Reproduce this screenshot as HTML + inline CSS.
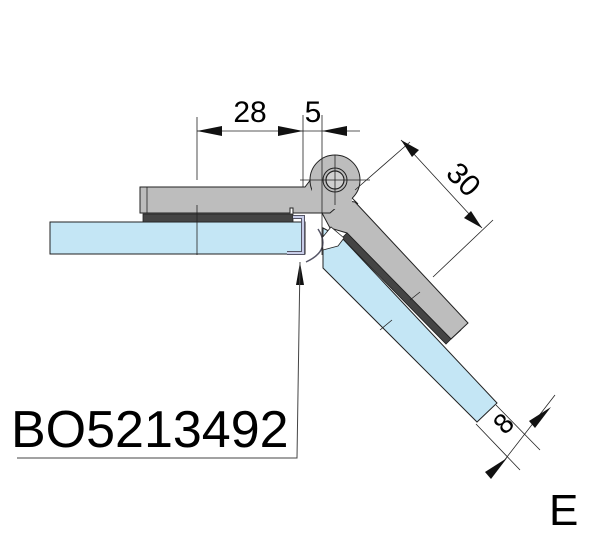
<!DOCTYPE html>
<html><head><style>body{margin:0;background:#fff}svg{display:block}</style></head><body>
<svg width="600" height="538" viewBox="0 0 600 538" xmlns="http://www.w3.org/2000/svg" font-family="Liberation Sans, Arial, sans-serif">
<rect x="50" y="222" width="255" height="32" fill="#c4e6f5" stroke="#222" stroke-width="1"/>
<rect x="143" y="214" width="150" height="8" fill="#444" stroke="#222" stroke-width="0.8"/>
<polygon points="323,228 342,238 497,403 477,422 323,268" fill="#c4e6f5" stroke="#222" stroke-width="1"/>
<polygon points="322,213 340,200 355,202 468,323 451,339 347,233 330,228" fill="#bdbdbd" stroke="#222" stroke-width="1"/>
<polygon points="342,238 347,233 451,339 446,344" fill="#444" stroke="#222" stroke-width="0.8"/>
<line x1="461" y1="330" x2="451" y2="339" stroke="#222" stroke-width="0.8"/>
<path d="M140,187 L305,187 L318,170 L345,200 L330,213 L293,213 L293,208 L290,208 L290,213 L140,213 Z" fill="#bdbdbd" stroke="#222" stroke-width="1"/>
<line x1="147" y1="187" x2="147" y2="213" stroke="#222" stroke-width="0.8"/>
<circle cx="335" cy="180" r="25" fill="#bdbdbd" stroke="#222" stroke-width="1"/>
<rect x="312" y="185" width="40" height="24" fill="#bdbdbd"/>
<line x1="352" y1="198" x2="358" y2="204" stroke="#222" stroke-width="1"/>
<circle cx="335" cy="180" r="12" fill="#bdbdbd" stroke="#222" stroke-width="1"/>
<circle cx="335" cy="180" r="9" fill="#d0d0d0" stroke="#222" stroke-width="1.2"/>
<polygon points="322,238 331,227 344,238 338,246 323,250" fill="#fff" stroke="#222" stroke-width="0.8"/>
<path d="M287,253 L303,253 L303,217 L293,217" fill="none" stroke="#556" stroke-width="4"/>
<path d="M287,253 L303,253 L303,217 L293,217" fill="none" stroke="#c8cde8" stroke-width="2"/>
<path d="M318,229 Q332,250 306,262" fill="none" stroke="#556" stroke-width="1.5"/>
<g stroke="#222" stroke-width="0.8" fill="none">
<line x1="197" y1="117" x2="197" y2="180"/>
<line x1="197" y1="205" x2="197" y2="255"/>
<line x1="303" y1="115" x2="303" y2="187"/>
<line x1="322" y1="115" x2="322" y2="255"/>
<line x1="197" y1="131" x2="360" y2="131"/>
<line x1="300" y1="180" x2="370" y2="180"/>
<line x1="335" y1="155" x2="335" y2="205"/>
<line x1="355" y1="190" x2="410" y2="142"/>
<line x1="433" y1="277" x2="493" y2="220"/>
<line x1="401" y1="140" x2="482" y2="228"/>
<line x1="496" y1="405" x2="540" y2="450"/>
<line x1="476" y1="424" x2="520" y2="470"/>
<line x1="555" y1="395" x2="493" y2="475"/>
<line x1="380" y1="330" x2="392" y2="320"/>
<line x1="410" y1="300" x2="420" y2="292"/>
</g>
<g fill="#111">
<polygon points="197,131 222,126 222,136"/>
<polygon points="303,131 278,126 278,136"/>
<polygon points="322,131 347,126 347,136"/>
<polygon points="401,140 419,150 412,157"/>
<polygon points="482,228 464,218 471,211"/>
<polygon points="551,407 535,428 529,421"/>
<polygon points="507,458 491,479 485,472"/>
<polygon points="300,262 296,285 304,285"/>
</g>
<text x="250" y="122" font-size="30" text-anchor="middle">28</text>
<text x="313" y="122" font-size="30" text-anchor="middle">5</text>
<text transform="translate(462,181) rotate(45)" font-size="30" text-anchor="middle" dominant-baseline="middle">30</text>
<text transform="translate(505,425) rotate(-45)" font-size="28" text-anchor="middle" dominant-baseline="middle">8</text>
<polyline points="300,262 297,458 17,458" fill="none" stroke="#444" stroke-width="1"/>
<text x="11" y="447" font-size="52">BO5213492</text>
<text x="549" y="525" font-size="44">E</text>
</svg>
</body></html>
